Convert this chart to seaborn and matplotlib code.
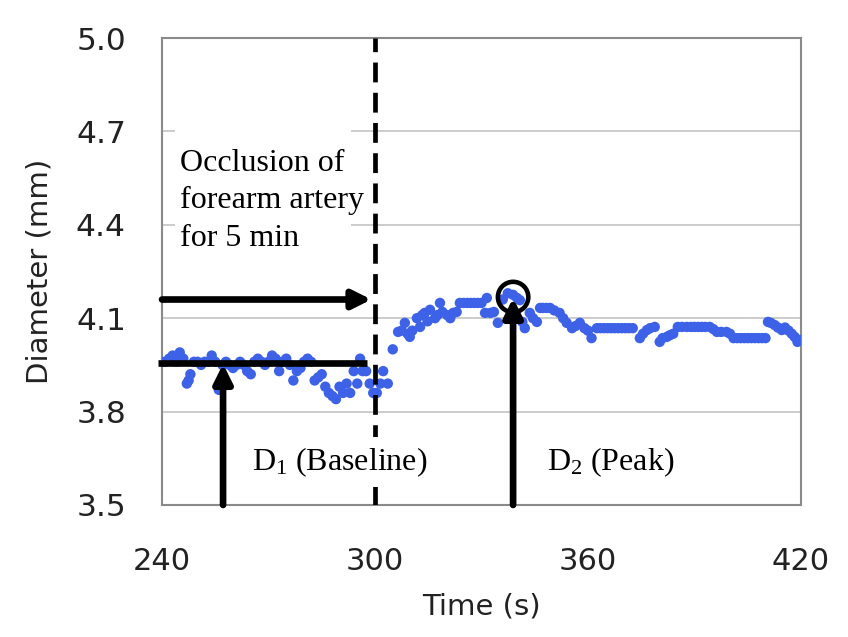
import numpy as np
import pandas as pd
import matplotlib
matplotlib.use("Agg")
import matplotlib.pyplot as plt
from matplotlib.patches import Rectangle
import seaborn as sns

# ---- data ----
time_s = [240, 241, 242, 243, 244, 245, 246, 247, 247.5, 248, 249, 250, 251, 252, 253, 254, 255, 256,
          257, 258, 259, 260, 261, 262, 263, 264, 265, 266, 267, 268, 269, 270, 271, 272, 273, 274,
          275, 276, 277, 278, 279, 280, 281, 282, 283, 284, 285, 286, 287, 288, 289, 290, 291, 292,
          293, 294, 295, 295.8, 296.5, 297.5, 298.5, 299.5, 300.5, 301.5, 302.3, 303.6, 305, 306.5,
          307.5, 308.4, 309.2, 309.8, 310.5, 311.8, 312.7, 313.3, 314, 314.8, 315.5, 316.9, 317.6,
          318.3, 319, 320.3, 321.2, 322, 323, 323.9, 325, 326, 327, 328, 329, 330, 331, 331.5, 332.5,
          333.5, 334.6, 336, 337.4, 338.9, 340, 340.8, 341.5, 342.2, 343.6, 344.5, 345.6, 346.5, 347.3,
          348.3, 349.3, 350.5, 352, 353, 354, 355.5, 356.5, 357.7, 359, 360, 361, 362.5, 363.5, 364.5,
          365.5, 366.5, 367.5, 368.5, 369.5, 370.5, 371.5, 372.6, 374.6, 375.5, 376.6, 377.5, 378.8,
          380.2, 381, 382.2, 383, 384, 385.3, 386.5, 387.8, 389, 390, 391, 392, 393, 394.3, 395.3,
          396.3, 397.5, 399, 400, 401, 402, 403, 404, 405, 406, 407, 408, 409, 410, 410.7, 411.5,
          412.6, 413.5, 414.6, 415.5, 416.5, 417.4, 418.2, 419, 419.8]
diameter_mm = [3.96, 3.96, 3.97, 3.98, 3.96, 3.99, 3.97, 3.89, 3.90, 3.92, 3.96, 3.96, 3.95, 3.96, 3.96,
               3.98, 3.96, 3.87, 3.95, 3.96, 3.95, 3.94, 3.95, 3.96, 3.95, 3.93, 3.92, 3.96, 3.97,
               3.96, 3.95, 3.96, 3.98, 3.97, 3.93, 3.96, 3.97, 3.95, 3.90, 3.93, 3.94, 3.96, 3.97,
               3.96, 3.90, 3.91, 3.92, 3.88, 3.86, 3.85, 3.84, 3.88, 3.86, 3.89, 3.86, 3.93, 3.89,
               3.97, 3.93, 3.93, 3.89, 3.86, 3.86, 3.89, 3.93, 3.89, 4.00, 4.056, 4.06, 4.085, 4.05,
               4.04, 4.06, 4.10, 4.072, 4.11, 4.117, 4.09, 4.127, 4.10, 4.11, 4.149, 4.12, 4.11, 4.10,
               4.117, 4.12, 4.149, 4.149, 4.149, 4.149, 4.149, 4.149, 4.149, 4.117, 4.165, 4.117, 4.12,
               4.085, 4.16, 4.18, 4.175, 4.165, 4.158, 4.088, 4.068, 4.117, 4.10, 4.088, 4.133, 4.133,
               4.133, 4.133, 4.125, 4.117, 4.10, 4.085, 4.068, 4.075, 4.085, 4.068, 4.06, 4.036, 4.068,
               4.068, 4.068, 4.068, 4.068, 4.068, 4.068, 4.068, 4.068, 4.068, 4.068, 4.036, 4.05,
               4.062, 4.068, 4.072, 4.024, 4.036, 4.04, 4.045, 4.05, 4.072, 4.072, 4.072, 4.072, 4.072,
               4.072, 4.072, 4.072, 4.072, 4.065, 4.056, 4.056, 4.056, 4.05, 4.036, 4.036, 4.036,
               4.036, 4.036, 4.036, 4.036, 4.036, 4.036, 4.036, 4.088, 4.085, 4.078, 4.07, 4.062, 4.07,
               4.06, 4.05, 4.04, 4.024, 4.03]

x_ticks = [240, 300, 360, 420]
y_ticks = [3.5, 3.8, 4.1, 4.4, 4.7, 5.0]
y_tick_labels = ["3.5", "3.8", "4.1", "4.4", "4.7", "5.0"]

occlusion_time = 300
baseline_value = 3.956
peak_value = 4.165
peak_time = 338.9
baseline_arrow_time = 257.2

df = pd.DataFrame({"Time (s)": time_s, "Diameter (mm)": diameter_mm})

sns.set_style("white")
plt.rcParams["font.family"] = ["DejaVu Sans"]
plt.rcParams["mathtext.fontset"] = "custom"
plt.rcParams["mathtext.rm"] = "Liberation Serif"
plt.rcParams["mathtext.it"] = "Liberation Serif:italic"

fig = plt.figure(figsize=(8.48, 6.37), dpi=100)
ax = fig.add_axes([162 / 848, 1 - 505 / 637, (801 - 162) / 848, (505 - 38) / 637])

# grid lines
for yv in y_ticks[1:-1]:
    ax.axhline(yv, color="#c4c4c4", lw=1.2, zorder=0)

sns.scatterplot(data=df, x="Time (s)", y="Diameter (mm)", ax=ax, color="#3d62e8",
                s=56, edgecolor="none", linewidth=0, zorder=3)

ax.set_xlim(240, 420)
ax.set_ylim(3.5, 5.0)
ax.set_xticks(x_ticks)
ax.set_xticklabels([str(v) for v in x_ticks])
ax.set_yticks(y_ticks)
ax.set_yticklabels(y_tick_labels)

for sp in ax.spines.values():
    sp.set_color("#8a8a8a")
    sp.set_linewidth(1.5)

ax.tick_params(axis="x", direction="in", length=8, width=1, color="#a0a0a0",
               labelsize=22, labelcolor="#222222", pad=30)
ax.tick_params(axis="y", direction="out", length=4, width=1, color="#a0a0a0",
               labelsize=22.5, labelcolor="#222222", pad=22)

ax.set_xlabel("Time (s)", fontsize=21, color="#222222", va="center")
ax.set_ylabel("Diameter (mm)", fontsize=21, color="#222222", va="center")
ax.xaxis.set_label_coords(0.5, -(607 - 505) / 467)
ax.yaxis.set_label_coords(-(162 - 40) / 639, 0.5)

# dashed occlusion line
ax.axvline(occlusion_time, color="black", lw=3.4, dashes=(4.2, 2.2), zorder=4)

serif = "Liberation Serif"
arrow_kw = dict(arrowstyle="-|>,head_length=1.1,head_width=0.55", color="black", lw=4.8,
                shrinkA=0, shrinkB=0)

# horizontal arrow to occlusion line (peak level)
ax.annotate("", xy=(299.0, peak_value - 0.005), xytext=(240, peak_value - 0.005),
            arrowprops=arrow_kw, zorder=5, annotation_clip=False)
# baseline horizontal line
ax.plot([239, 297.7], [baseline_value, baseline_value], color="black", lw=4.8,
        solid_capstyle="butt", zorder=5, clip_on=False)
# D1 arrow
ax.annotate("", xy=(baseline_arrow_time, baseline_value - 0.003), xytext=(baseline_arrow_time, 3.5),
            arrowprops=arrow_kw, zorder=5)
# D2 arrow
ax.annotate("", xy=(peak_time, peak_value), xytext=(peak_time, 3.5),
            arrowprops=arrow_kw, zorder=5)
# peak circle
ax.scatter([peak_time], [4.168], s=480, facecolors="none", edgecolors="black",
           linewidths=3.3, zorder=6)

# white text box behind the occlusion note (hides grid lines as in the reference)
ax.add_patch(Rectangle((243.7, 4.27), 49.5, 0.46, facecolor="white", edgecolor="none", zorder=1))
ax.text(245.1, 4.645, "Occlusion of\nforearm artery\nfor 5 min", family=serif, fontsize=23,
        va="top", ha="left", linespacing=1.4, color="black", zorder=7)
ax.text(265.3, 3.612, r"D$_1$ (Baseline)", family=serif, fontsize=23, va="baseline",
        ha="left", color="black", zorder=7,
        bbox=dict(boxstyle="square,pad=0.25", facecolor="white", edgecolor="none"))
ax.text(348.4, 3.612, r"D$_2$ (Peak)", family=serif, fontsize=23, va="baseline",
        ha="left", color="black", zorder=7)

fig.savefig("out.png", dpi=100, facecolor="white")
